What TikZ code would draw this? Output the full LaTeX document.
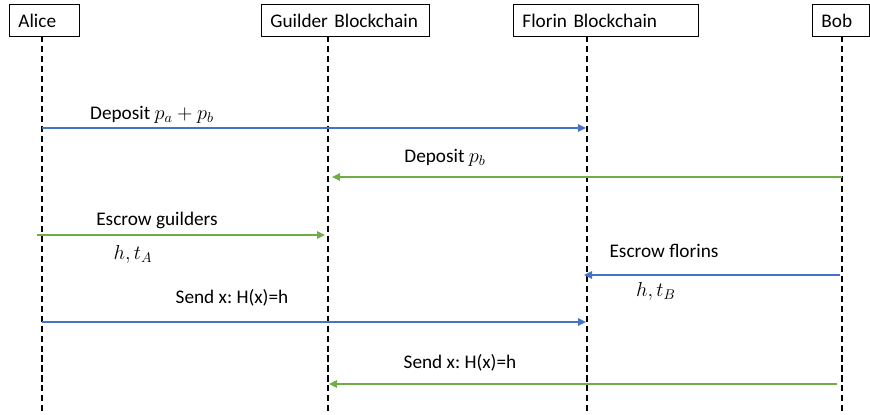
\documentclass[tikz,border=0pt]{standalone}
\usepackage{amsmath, amssymb}
\usepackage{fontspec}
\setmainfont{Carlito}
\usepackage{tikz}
\usetikzlibrary{arrows.meta}
\frenchspacing

\definecolor{msgblue}{RGB}{68,114,196}
\definecolor{msggreen}{RGB}{112,173,71}

\tikzset{
	actor/.style={draw, line width=0.6pt, anchor=north west, minimum height=0.8cm, inner xsep=0.225cm, align=left},
	lifeline/.style={line width=1pt, dash pattern=on 4.3pt off 2.8pt},
	bluemsg/.style={msgblue, line width=1.6pt, -{Triangle[length=0.2cm, width=0.18cm]}},
	greenmsg/.style={msggreen, line width=1.6pt, -{Triangle[length=0.2cm, width=0.18cm]}},
	lbl/.style={inner sep=0pt}
}

\begin{document}
\begin{tikzpicture}[x=0.025cm, y=-0.025cm, font=\fontsize{13.7}{16}\selectfont]
		
		\useasboundingbox (0,0) rectangle (870,415);
		
		%%% participants
		\node[actor, text width=1.3cm] (alice) at (9,4) {Alice};
		\node[actor, text width=3.75cm] (guilder) at (261,4) {Guilder Blockchain};
		\node[actor, text width=4.175cm] (florin) at (513,4) {Florin Blockchain};
		\node[actor, text width=0.975cm] (bob) at (812,4) {Bob};
		
		%%% lifelines
		\coordinate (alice top) at (42,36);
		\coordinate (alice bot) at (42,412);
		\coordinate (guilder top) at (328,36);
		\coordinate (guilder bot) at (328,412);
		\coordinate (florin top) at (587,36);
		\coordinate (florin bot) at (587,412);
		\coordinate (bob top) at (842,36);
		\coordinate (bob bot) at (842,412);
		
		\draw[lifeline] (alice top) -- (alice bot);
		\draw[lifeline] (guilder top) -- (guilder bot);
		\draw[lifeline] (florin top) -- (florin bot);
		\draw[lifeline] (bob top) -- (bob bot);
		
		%%% Alice -> Florin
		\coordinate (dep1 s) at (42,128);
		\coordinate (dep1 e) at (586,128);
		\draw[bluemsg] (dep1 s) -- (dep1 e);
		\node[lbl] (dep1 lbl) at (152,115) {Deposit $p_a + p_b$};
		
		%%% Bob -> Guilder
		\coordinate (dep2 s) at (842,177);
		\coordinate (dep2 e) at (332,177);
		\draw[greenmsg] (dep2 s) -- (dep2 e);
		\node[lbl] (dep2 lbl) at (445,158) {Deposit $p_b$};
		
		%%% Alice -> Guilder
		\coordinate (esc1 s) at (37,235);
		\coordinate (esc1 e) at (325,235);
		\draw[greenmsg] (esc1 s) -- (esc1 e);
		\node[lbl] (esc1 lbl) at (157,220) {Escrow guilders};
		\node[lbl] (esc1 arg) at (133,254) {$h, t_A$};
		
		%%% Bob -> Florin
		\coordinate (esc2 s) at (840,275);
		\coordinate (esc2 e) at (584,275);
		\draw[bluemsg] (esc2 s) -- (esc2 e);
		\node[lbl] (esc2 lbl) at (664,251) {Escrow florins};
		\node[lbl] (esc2 arg) at (656,291) {$h, t_B$};
		
		%%% Alice -> Florin
		\coordinate (snd1 s) at (42,322);
		\coordinate (snd1 e) at (586,322);
		\draw[bluemsg] (snd1 s) -- (snd1 e);
		\node[lbl] (snd1 lbl) at (232,298) {Send x: H(x)=h};
		
		%%% Bob -> Guilder
		\coordinate (snd2 s) at (837,384);
		\coordinate (snd2 e) at (329,384);
		\draw[greenmsg] (snd2 s) -- (snd2 e);
		\node[lbl] (snd2 lbl) at (460,363) {Send x: H(x)=h};
		
	\end{tikzpicture}
\end{document}
